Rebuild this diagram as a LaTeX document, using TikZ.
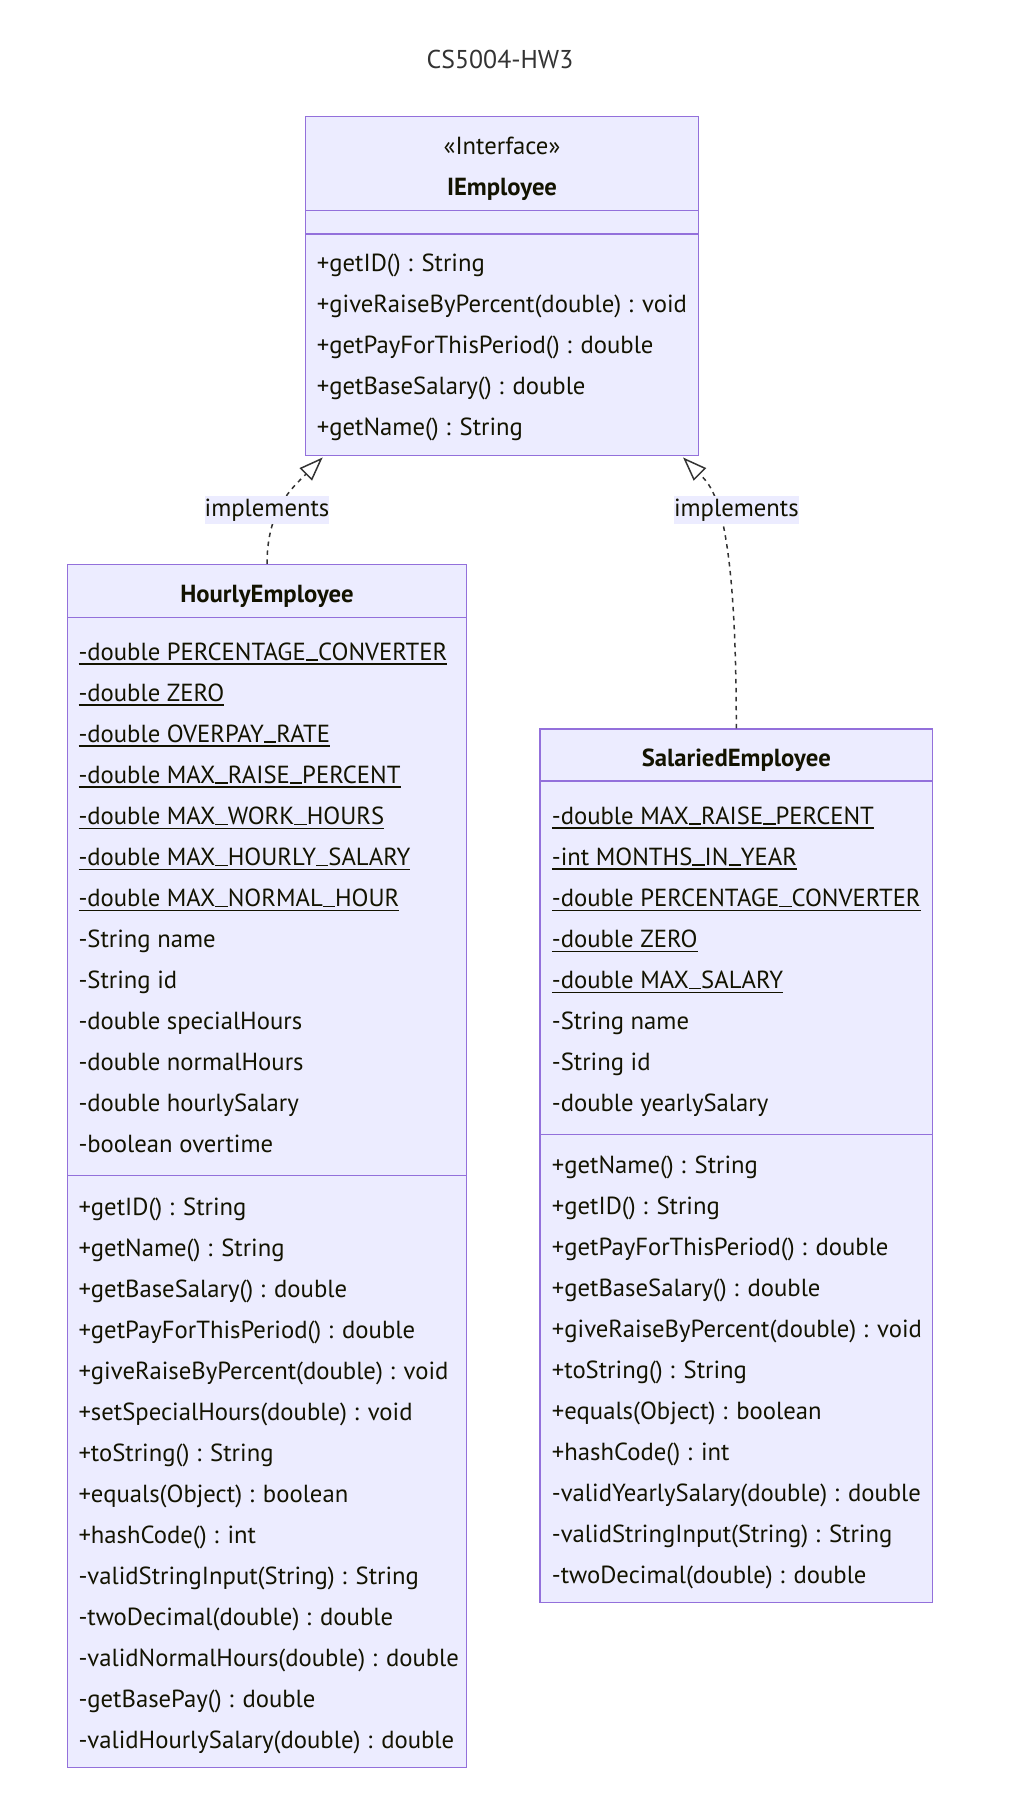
\documentclass[tikz,border=0pt]{standalone}
\usepackage{fontspec}
\setmainfont{PT Sans}
\usetikzlibrary{arrows.meta,calc}

\definecolor{boxfill}{HTML}{ECECFF}
\definecolor{boxline}{HTML}{9370DB}
\definecolor{inkc}{HTML}{131300}
\definecolor{edgec}{HTML}{333333}
\definecolor{titlec}{HTML}{333333}

\newlength\wmeth
\newlength\wttl
% font sizes chosen from the widths of two sample strings
\AtBeginDocument{%
  \settowidth\wmeth{\fontsize{24}{24}\selectfont +giveRaiseByPercent(double) : void}%
  \settowidth\wttl{\fontsize{24}{24}\selectfont CS5004-HW3}%
  \pgfmathsetmacro\fs{24*370/\wmeth}%
  \pgfmathsetmacro\ft{24*146.6/\wttl}%
  \global\let\fs\fs \global\let\ft\ft}
% static members are underlined
\newcommand\statattr[1]{\setbox0=\hbox{#1}\rlap{\rule[-4.7pt]{\wd0}{1.4pt}}\box0}
% underscore sitting on the baseline, clear of the underline
\newcommand\usc{\rule[-0.7pt]{0.5em}{1.4pt}}

\begin{document}
\begin{tikzpicture}[x=1pt,y=-1pt]
\tikzset{
  classbox/.style={draw=boxline, fill=boxfill, line width=1.5pt, rectangle, inner sep=0pt},
  sepline/.style={draw=boxline, line width=1.5pt},
  member/.style={anchor=base west, inner sep=0pt, text=inkc, font=\fontsize{\fs}{\fs}\selectfont},
  cname/.style={anchor=base, inner sep=0pt, text=inkc, font=\fontsize{\fs}{\fs}\selectfont\bfseries},
  stereo/.style={anchor=base, inner sep=0pt, text=inkc, font=\fontsize{\fs}{\fs}\selectfont},
  realize/.style={draw=edgec, line width=1.5pt, dash pattern=on 4.5pt off 4.5pt,
    -{Triangle[open, length=24pt, width=17.5pt]}},
  edgelabel/.style={fill=boxfill, text=inkc, inner xsep=0pt, inner ysep=0pt,
    minimum height=28.3pt, font=\fontsize{\fs}{\fs}\selectfont},
  diagtitle/.style={anchor=base, inner sep=0pt, text=titlec, font=\fontsize{\ft}{\ft}\selectfont}
}

\fill[white] (0,0) rectangle (1012,1808);
\useasboundingbox (0,0) rectangle (1012,1808);

\node[diagtitle] (title) at (500,68.3) {CS5004-HW3};

% ---------- IEmployee ----------
\node[classbox, minimum width=393.2pt, minimum height=339pt] (iemp) at (502,286.2) {};
\draw[sepline] (305.4,210.7) -- (698.6,210.7);
\draw[sepline] (305.4,234) -- (698.6,234);
\node[stereo] (iemp-st) at (502,154) {«Interface»};
\node[cname] (iemp-name) at (502,195) {IEmployee};
\foreach \m [count=\k from 0] in {{+getID() : String},{+giveRaiseByPercent(double) : void},
  {+getPayForThisPeriod() : double},{+getBaseSalary() : double},{+getName() : String}}
  \node[member] (iemp-m\k) at (316.7,{271.5+41*\k}) {\m};

% ---------- HourlyEmployee ----------
\node[classbox, minimum width=399.4pt, minimum height=1202.6pt] (hourly) at (267,1166) {};
\draw[sepline] (67.3,617.3) -- (466.7,617.3);
\draw[sepline] (67.3,1175.7) -- (466.7,1175.7);
\node[cname] (hourly-name) at (267,602.7) {HourlyEmployee};
\foreach \m [count=\k from 0] in {{-double PERCENTAGE\usc CONVERTER},{-double ZERO},
  {-double OVERPAY\usc RATE},{-double MAX\usc RAISE\usc PERCENT},{-double MAX\usc WORK\usc HOURS},
  {-double MAX\usc HOURLY\usc SALARY},{-double MAX\usc NORMAL\usc HOUR}}
  \node[member] (hourly-s\k) at (78.3,{660+41.05*\k}) {\statattr{\m}};
\foreach \m [count=\k from 7] in {{-String name},{-String id},{-double specialHours},
  {-double normalHours},{-double hourlySalary},{-boolean overtime}}
  \node[member] (hourly-a\k) at (78.3,{660+41.05*\k}) {\m};
\foreach \m [count=\k from 0] in {{+getID() : String},{+getName() : String},
  {+getBaseSalary() : double},{+getPayForThisPeriod() : double},
  {+giveRaiseByPercent(double) : void},{+setSpecialHours(double) : void},
  {+toString() : String},{+equals(Object) : boolean},{+hashCode() : int},
  {-validStringInput(String) : String},{-twoDecimal(double) : double},
  {-validNormalHours(double) : double},{-getBasePay() : double},
  {-validHourlySalary(double) : double}}
  \node[member] (hourly-m\k) at (78.3,{1215+41*\k}) {\m};

% ---------- SalariedEmployee ----------
\node[classbox, minimum width=392.6pt, minimum height=873.7pt] (salaried) at (736.3,1165.85) {};
\draw[sepline] (540,781) -- (932.6,781);
\draw[sepline] (540,1134.7) -- (932.6,1134.7);
\node[cname] (salaried-name) at (736.3,766.7) {SalariedEmployee};
\foreach \m [count=\k from 0] in {{-double MAX\usc RAISE\usc PERCENT},{-int MONTHS\usc IN\usc YEAR},
  {-double PERCENTAGE\usc CONVERTER},{-double ZERO},{-double MAX\usc SALARY}}
  \node[member] (salaried-s\k) at (551.7,{824+41.1*\k}) {\statattr{\m}};
\foreach \m [count=\k from 5] in {{-String name},{-String id},{-double yearlySalary}}
  \node[member] (salaried-a\k) at (551.7,{824+41.1*\k}) {\m};
\foreach \m [count=\k from 0] in {{+getName() : String},{+getID() : String},
  {+getPayForThisPeriod() : double},{+getBaseSalary() : double},
  {+giveRaiseByPercent(double) : void},{+toString() : String},
  {+equals(Object) : boolean},{+hashCode() : int},
  {-validYearlySalary(double) : double},{-validStringInput(String) : String},
  {-twoDecimal(double) : double}}
  \node[member] (salaried-m\k) at (551.7,{1173+41.05*\k}) {\m};

% ---------- realizations ----------
\coordinate (tipL) at ($(iemp.south west)+(18,1)$);
\coordinate (tipR) at ($(iemp.south east)+(-16.3,1)$);
\draw[realize] (hourly.north) .. controls ($(hourly.north)+(0,-55)$) and ($(tipL)+(-30,30)$) .. (tipL);
\draw[realize] (salaried.north) .. controls ($(salaried.north)+(0,-219)$) and ($(tipR)+(30,30)$) .. (tipR);
\node[edgelabel] (lblL) at (267,510.3) {implements};
\node[edgelabel] (lblR) at (736.4,510.3) {implements};
\end{tikzpicture}
\end{document}
